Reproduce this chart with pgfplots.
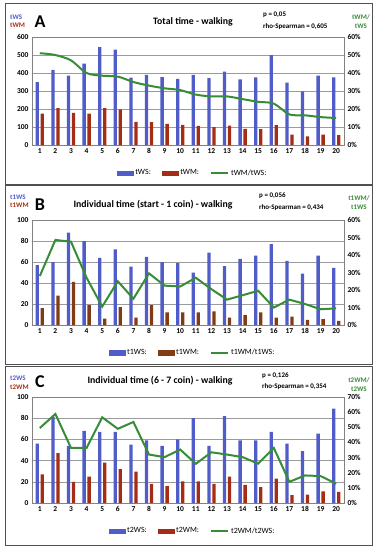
\documentclass[border=0pt]{standalone}
\usepackage{fontspec}
\setmainfont{Carlito}
\usepackage{pgfplots}
\pgfplotsset{compat=1.18}
\definecolor{cblue}{RGB}{80,92,200}
\definecolor{cred}{RGB}{165,45,20}
\definecolor{cbrown}{RGB}{130,60,20}
\definecolor{cgreen}{RGB}{55,140,55}
\definecolor{cframe}{RGB}{130,130,130}
\definecolor{cbox}{RGB}{80,80,80}

\pgfplotstableread{
x a b r
1 350 175 51
2 418 205 50
3 385 178 47
4 452 175 40
5 544 205 38.5
6 530 198 38
7 374 128 35
8 390 127 33
9 377 117 31.5
10 368 112 30.5
11 390 106 28
12 371 100 27
13 408 107 27
14 364 90 25.5
15 376 88 24
16 500 110 23
17 346 58 17
18 298 48 16.5
19 386 58 15.5
20 376 55 15
}\dataA
\pgfplotstableread{
x a b r
1 57 16 28
2 60 28 48.6
3 88 41 47.6
4 80 19 27
5 64 6 10.5
6 72 17 25
7 55.5 7 15
8 65 19 29.5
9 60 12 22.5
10 59 12 22
11 50 12 27
12 69 13 20.5
13 56 7 14.5
14 63 9.5 17
15 66 12 19.6
16 77 7 10
17 61 8 14.5
18 49 5 12
19 66 5.5 9
20 54.5 4 9.5
}\dataB
\pgfplotstableread{
x a b r
1 56 27 49.5
2 81 47 58.8
3 54 20 36.4
4 68 25 36.4
5 67 38 56.6
6 67 32 49
7 55 29.5 53.5
8 59 18 32
9 54 16 30.3
10 60 20.5 35.3
11 80 20.5 25.9
12 54 18 33.5
13 82 25 32
14 59 17 30.3
15 59 15 26
16 67 23 36.4
17 56 7.5 14
18 49 8 18.2
19 65.5 11 17.8
20 89 10.5 12.7
}\dataC

\pgfplotsset{
  base/.style={scale only axis, width=312pt, xmin=0.5, xmax=20.5, ymin=0,
    anchor=south west, major tick length=0pt, axis line style={cframe},
    tick label style={font=\bfseries\fontsize{7.5}{8}\selectfont},
    /pgf/number format/assume math mode=true},
  leftax/.style={base, ybar, bar width=3.3pt, xtick={1,...,20},
    ymajorgrids, grid style={cframe!80}},
  rightax/.style={base, axis y line*=right, axis x line=none,
    yticklabel={\pgfmathprintnumber{\tick}\%},
    legend style={draw=none, fill=none, legend columns=3,
      font=\fontsize{8}{9}\selectfont, anchor=center,
      /tikz/every even column/.append style={column sep=9pt}}},
  barleg/.style={legend image code/.code={\fill[#1] (0pt,-2.3pt) rectangle (16pt,2.3pt);}},
}
\tikzset{
  lab/.style={font=\bfseries\fontsize{7}{8}\selectfont, inner sep=0pt},
  ttl/.style={font=\bfseries\fontsize{9.8}{11}\selectfont, inner sep=0pt},
  big/.style={font=\bfseries\fontsize{18}{18}\selectfont, inner sep=0pt},
}

\begin{document}
\begin{tikzpicture}
\useasboundingbox (0pt,0pt) rectangle (379pt,-550pt);
\draw[cbox, line width=0.8pt] (5pt,-3pt) rectangle (372pt,-184pt);
\draw[cbox, line width=0.8pt] (5pt,-185pt) rectangle (372pt,-364pt);
\draw[cbox, line width=0.8pt] (5pt,-366pt) rectangle (372pt,-545pt);

% ---------- Panel A ----------
\begin{axis}[leftax, at={(32pt,-145pt)}, height=108pt, ymax=600, ytick={0,100,...,600}]
\addplot[fill=cblue, draw=none, bar shift=-2.5pt] table[x=x,y=a] {\dataA};
\addplot[fill=cred, draw=none, bar shift=2.5pt] table[x=x,y=b] {\dataA};
\node[lab, font=\bfseries\fontsize{7.5}{8}\selectfont, anchor=east] at (axis description cs:0,0) [xshift=-2pt, yshift=-10pt] {Users};
\end{axis}
\begin{axis}[rightax, at={(32pt,-145pt)}, height=108pt, ymax=60, ytick={0,10,...,60},
  legend style={at={(0.515,-0.26)}}]
\addlegendimage{barleg=cblue}\addlegendentry{tWS:}
\addlegendimage{barleg=cred}\addlegendentry{tWM:}
\addplot[cgreen, line width=2pt, smooth] table[x=x,y=r] {\dataA};
\addlegendentry{tWM/tWS:}
\end{axis}
\node[big] at (40pt,-22pt) {A};
\node[ttl] at (193pt,-22pt) {Total time - walking};
\node[lab, anchor=west] at (263pt,-15pt) {p = 0,05};
\node[lab, anchor=west] at (263pt,-27pt) {rho-Spearman = 0,605};
\node[lab, anchor=west, text=cblue] at (10pt,-17pt) {tWS};
\node[lab, anchor=west, text=cred] at (10pt,-25pt) {tWM};
\node[lab, text=cgreen] at (361pt,-17pt) {tWM/};
\node[lab, text=cgreen] at (361pt,-26pt) {tWS};

% ---------- Panel B ----------
\begin{axis}[leftax, at={(32pt,-325pt)}, height=105pt, ymax=100, ytick={0,20,...,100}]
\addplot[fill=cblue, draw=none, bar shift=-2.5pt] table[x=x,y=a] {\dataB};
\addplot[fill=cbrown, draw=none, bar shift=2.5pt] table[x=x,y=b] {\dataB};
\node[lab, font=\bfseries\fontsize{7.5}{8}\selectfont, anchor=east] at (axis description cs:0,0) [xshift=-2pt, yshift=-8pt] {Users};
\end{axis}
\begin{axis}[rightax, at={(32pt,-325pt)}, height=105pt, ymax=60, ytick={0,10,...,60},
  legend style={at={(0.515,-0.265)}}]
\addlegendimage{barleg=cblue}\addlegendentry{t1WS:}
\addlegendimage{barleg=cbrown}\addlegendentry{t1WM:}
\addplot[cgreen, line width=2pt] table[x=x,y=r] {\dataB};
\addlegendentry{t1WM/t1WS:}
\end{axis}
\node[big] at (40pt,-205pt) {B};
\node[ttl] at (153pt,-205pt) {Individual time (start - 1 coin) - walking};
\node[lab, anchor=west] at (259pt,-196pt) {p = 0,056};
\node[lab, anchor=west] at (259pt,-208pt) {rho-Spearman = 0,434};
\node[lab, anchor=west, text=cblue] at (10pt,-197pt) {t1WS};
\node[lab, anchor=west, text=cred] at (10pt,-205pt) {t1WM};
\node[lab, text=cgreen] at (359pt,-198pt) {t1WM/};
\node[lab, text=cgreen] at (359pt,-207pt) {t1WS};

% ---------- Panel C ----------
\begin{axis}[leftax, at={(32pt,-503pt)}, height=106pt, ymax=100, ytick={0,20,...,100}]
\addplot[fill=cblue, draw=none, bar shift=-2.5pt] table[x=x,y=a] {\dataC};
\addplot[fill=cred, draw=none, bar shift=2.5pt] table[x=x,y=b] {\dataC};
\node[lab, font=\bfseries\fontsize{7.5}{8}\selectfont, anchor=east] at (axis description cs:0,0) [xshift=-2pt, yshift=-10pt] {Users};
\end{axis}
\begin{axis}[rightax, at={(32pt,-503pt)}, height=106pt, ymax=70, ytick={0,10,...,70},
  legend style={at={(0.515,-0.265)}}]
\addlegendimage{barleg=cblue}\addlegendentry{t2WS:}
\addlegendimage{barleg=cred}\addlegendentry{t2WM:}
\addplot[cgreen, line width=2pt] table[x=x,y=r] {\dataC};
\addlegendentry{t2WM/t2WS:}
\end{axis}
\node[big] at (40pt,-382pt) {C};
\node[ttl] at (160pt,-381pt) {Individual time (6 - 7 coin) - walking};
\node[lab, anchor=west] at (262pt,-376pt) {p = 0,126};
\node[lab, anchor=west] at (262pt,-387pt) {rho-Spearman = 0,354};
\node[lab, anchor=west, text=cblue] at (10pt,-378pt) {t2WS};
\node[lab, anchor=west, text=cred] at (10pt,-387pt) {t2WM};
\node[lab, text=cgreen] at (359pt,-380pt) {t2WM/};
\node[lab, text=cgreen] at (359pt,-389pt) {t2WS};
\end{tikzpicture}
\end{document}
